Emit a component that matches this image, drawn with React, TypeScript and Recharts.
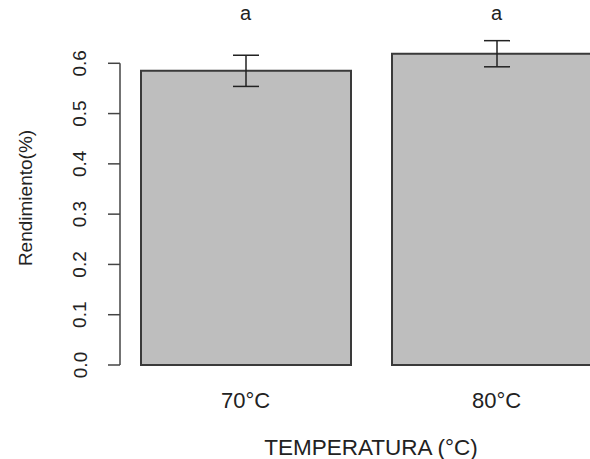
import {
  BarChart,
  Bar,
  XAxis,
  YAxis,
  ErrorBar,
  ReferenceLine,
  ReferenceDot,
  Label,
} from "recharts";

// temperatures on the x axis
const categories = ["70°C", "80°C"];
const positions = [1, 2];
// mean yield and its error
const rendimiento = [0.585, 0.619];
const errores = [0.031, 0.026];
// Tukey letters drawn above the bars
const letras = ["a", "a"];
const letraY = 0.7;
const yTicks = [0, 0.1, 0.2, 0.3, 0.4, 0.5, 0.6];

const data = categories.map((c, i) => ({
  name: c,
  x: positions[i],
  value: rendimiento[i],
  err: errores[i],
}));

const FONT = "'Liberation Sans', Arial, sans-serif";
const INK = "#222";

function YTick(props: any) {
  const { x, y, payload } = props;
  return (
    <text
      x={x}
      y={y}
      transform={`rotate(-90, ${x}, ${y})`}
      textAnchor="middle"
      dominantBaseline="central"
      fontSize={19}
      fontFamily={FONT}
      fill={INK}
    >
      {payload.value.toFixed(1)}
    </text>
  );
}

export default function App() {
  return (
    <div
      style={{
        position: "absolute",
        left: 0,
        top: 0,
        width: 590,
        height: 459,
        overflow: "hidden",
        background: "#fff",
      }}
    >
      <BarChart
        width={630}
        height={459}
        data={data}
        margin={{ top: 13, right: 8, bottom: 0, left: 0 }}
      >
        <XAxis
          type="number"
          dataKey="x"
          domain={[0.5, 2.5]}
          ticks={positions}
          tickFormatter={(v: number) => categories[positions.indexOf(v)] ?? ""}
          axisLine={false}
          tickLine={false}
          tickSize={0}
          tickMargin={27}
          height={94}
          tick={{ fontSize: 22, fill: INK, fontFamily: FONT }}
        >
          <Label
            content={(p: any) => (
              <text
                x={p.viewBox.x + p.viewBox.width / 2}
                y={p.viewBox.y + 82}
                textAnchor="middle"
                dominantBaseline="central"
                fontSize={22.5}
                fontFamily={FONT}
                fill={INK}
              >
                TEMPERATURA (°C)
              </text>
            )}
          />
        </XAxis>
        <YAxis
          type="number"
          domain={[0, 0.7]}
          ticks={yTicks}
          width={120}
          axisLine={false}
          tickLine={{ stroke: "#444", strokeWidth: 1.5 }}
          tickSize={12}
          tickMargin={28}
          tick={<YTick />}
        >
          <Label
            content={(p: any) => {
              const cx = 25;
              const cy = p.viewBox.y + p.viewBox.height / 2 + 9;
              return (
                <text
                  x={cx}
                  y={cy}
                  transform={`rotate(-90, ${cx}, ${cy})`}
                  textAnchor="middle"
                  dominantBaseline="central"
                  fontSize={19}
                  fontFamily={FONT}
                  fill={INK}
                >
                  Rendimiento(%)
                </text>
              );
            }}
          />
        </YAxis>
        <ReferenceLine
          segment={[
            { x: 0.5, y: 0 },
            { x: 0.5, y: 0.6 },
          ]}
          stroke="#444"
          strokeWidth={1.5}
          ifOverflow="visible"
        />
        <Bar
          dataKey="value"
          barSize={210}
          fill="#bebebe"
          stroke="#3a3a3a"
          strokeWidth={2}
          isAnimationActive={false}
        >
          <ErrorBar
            dataKey="err"
            width={13}
            stroke={INK}
            strokeWidth={1.5}
            isAnimationActive={false}
          />
        </Bar>
        {data.map((d, i) => (
          <ReferenceDot
            key={d.name}
            x={d.x}
            y={letraY}
            r={0}
            ifOverflow="visible"
            label={{
              value: letras[i],
              position: "center",
              fontSize: 20,
              fontFamily: FONT,
              fill: INK,
            }}
          />
        ))}
      </BarChart>
    </div>
  );
}
